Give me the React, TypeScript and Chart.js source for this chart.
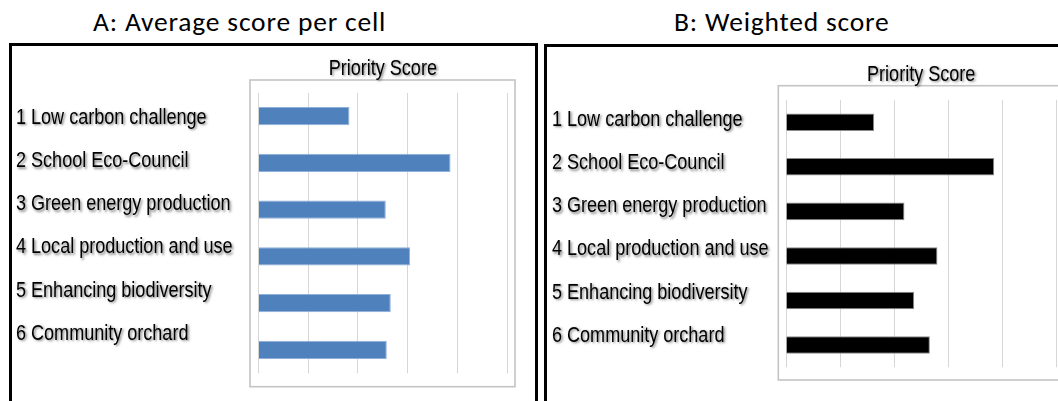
import React, { useEffect, useRef } from "react";
import { Chart, registerables } from "chart.js";

Chart.register(...registerables);

// ---------- data ----------
const categories = [
  "1 Low carbon challenge",
  "2 School Eco-Council",
  "3 Green energy production",
  "4 Local production and use",
  "5 Enhancing biodiversity",
  "6 Community orchard",
];
const scoresA = [1.83, 3.86, 2.56, 3.05, 2.66, 2.58];
const scoresB = [1.63, 3.85, 2.19, 2.8, 2.37, 2.66];
const xMin = 0;
const xMax = 5;
const xStep = 1;
const axisTitle = "Priority Score";
const panelTitleA = "A: Average score per cell";
const panelTitleB = "B: Weighted score";

// ---------- styles / layout ----------
const LABEL_FONT = "'Liberation Sans', Arial, sans-serif";
const NARROW_SCALE = 0.82; // emulate Arial Narrow
const TITLE_FONT = "Carlito, Calibri, Lato, 'Open Sans', sans-serif";

type PanelLayout = {
  canvasLeft: number;
  canvasWidth: number;
  pad: { left: number; right: number; top: number; bottom: number };
  labelAxisWidth: number;
  xAxisHeight: number;
  titlePadTop: number;
  labelMin: number;
  labelMax: number;
  frame: { l: number; t: number; r: number; b: number };
};

const layoutA: PanelLayout = {
  canvasLeft: 0,
  canvasWidth: 540,
  pad: { left: 16, right: 32.7, top: 0, bottom: 27.7 },
  labelAxisWidth: 242.3,
  xAxisHeight: 92.7,
  titlePadTop: 55.5,
  labelMin: -0.581,
  labelMax: 5.914,
  frame: { l: 8.3, t: 12.7, r: 7.7, b: 13.4 },
};

const layoutB: PanelLayout = {
  canvasLeft: 536,
  canvasWidth: 522,
  pad: { left: 16, right: 1.6, top: 0, bottom: 33.7 },
  labelAxisWidth: 234,
  xAxisHeight: 100,
  titlePadTop: 61.4,
  labelMin: -0.458,
  labelMax: 5.729,
  frame: { l: 7.7, t: 14.3, r: 7.7, b: 12.7 },
};

const framePlugin = {
  id: "plotFrame",
  beforeDraw(chart: any, _args: any, opts: any) {
    const { left, top, right, bottom } = chart.chartArea;
    const ctx = chart.ctx;
    ctx.save();
    ctx.strokeStyle = opts.color || "#c4c4c4";
    ctx.lineWidth = opts.width || 1.5;
    ctx.strokeRect(
      left - opts.l,
      top - opts.t,
      right - left + opts.l + opts.r,
      bottom - top + opts.t + opts.b
    );
    ctx.restore();
  },
};

// text shadow + horizontal condensing for the label ticks and axis title
const textStylePlugin = {
  id: "textStyle",
  afterLayout(chart: any) {
    const wrap = (scale: any, name: string, originX: () => number) => {
      if (!scale || scale["__wrapped_" + name]) return;
      const orig = scale[name].bind(scale);
      scale[name] = (...args: any[]) => {
        const ctx = chart.ctx;
        const ox = originX();
        ctx.save();
        ctx.shadowColor = "rgba(0,0,0,0.5)";
        ctx.shadowOffsetX = 1.5;
        ctx.shadowOffsetY = 1.5;
        ctx.shadowBlur = 2.5;
        ctx.translate(ox, 0);
        ctx.scale(NARROW_SCALE, 1);
        ctx.translate(-ox, 0);
        orig(...args);
        ctx.restore();
      };
      scale["__wrapped_" + name] = true;
    };
    const yl = chart.scales.yl;
    if (yl) yl._computeLabelArea = () => undefined; // no clipping of long labels
    wrap(yl, "drawLabels", () => yl.left);
    wrap(chart.scales.x, "drawTitle", () => (chart.chartArea.left + chart.chartArea.right) / 2);
  },
};

function PanelChart(props: {
  values: number[];
  layout: PanelLayout;
  color: string;
  edge: string;
}) {
  const { values, layout, color, edge } = props;
  const ref = useRef<HTMLCanvasElement | null>(null);

  useEffect(() => {
    if (!ref.current) return;
    const chart = new Chart(ref.current, {
      type: "bar",
      data: {
        labels: categories,
        datasets: [
          {
            data: values,
            backgroundColor: color,
            borderColor: edge,
            borderWidth: 1,
            barPercentage: 0.393,
            categoryPercentage: 1,
            xAxisID: "x",
            yAxisID: "y",
          },
        ],
      },
      options: {
        indexAxis: "y",
        animation: false,
        responsive: false,
        maintainAspectRatio: false,
        events: [],
        layout: { padding: layout.pad },
        plugins: {
          legend: { display: false },
          tooltip: { enabled: false },
          title: { display: false },
          plotFrame: { ...layout.frame, color: "#c4c4c4", width: 1.6 },
        } as any,
        scales: {
          x: {
            type: "linear",
            position: "top",
            min: xMin,
            max: xMax,
            ticks: { display: false, stepSize: xStep },
            grid: { color: "#d6d6d6", lineWidth: 1, drawTicks: false },
            border: { display: false },
            title: {
              display: true,
              text: axisTitle,
              color: "#000",
              font: { family: LABEL_FONT, size: 22 },
              padding: { top: layout.titlePadTop, bottom: 0 },
            },
            afterFit: (s: any) => {
              s.height = layout.xAxisHeight;
            },
          },
          y: {
            type: "category",
            display: false,
            offset: true,
          },
          yl: {
            type: "linear",
            position: "left",
            reverse: true,
            offset: false,
            bounds: "data",
            min: layout.labelMin,
            max: layout.labelMax,
            grid: { display: false, offset: false },
            border: { display: false },
            ticks: {
              autoSkip: false,
              crossAlign: "far",
              padding: 0,
              color: "#000",
              font: { family: LABEL_FONT, size: 22 },
              callback: (v: any) => {
                const i = Number(v);
                return Number.isInteger(i) && i >= 0 && i < categories.length
                  ? categories[i]
                  : "";
              },
            },
            afterBuildTicks: (s: any) => {
              s.ticks = categories.map((_, i) => ({ value: i }));
              s.min = layout.labelMin;
              s.max = layout.labelMax;
            },
            afterFit: (s: any) => {
              s.width = layout.labelAxisWidth;
            },
          },
        } as any,
      },
      plugins: [framePlugin, textStylePlugin],
    });
    return () => chart.destroy();
  }, [values, layout, color, edge]);

  return (
    <canvas
      ref={ref}
      width={layout.canvasWidth}
      height={401}
      style={{
        position: "absolute",
        left: layout.canvasLeft,
        top: 0,
        width: layout.canvasWidth,
        height: 401,
      }}
    />
  );
}

export default function App() {
  const titleStyle: React.CSSProperties = {
    position: "absolute",
    top: 7.5,
    fontFamily: TITLE_FONT,
    fontSize: 27.5,
    letterSpacing: 0.8,
    lineHeight: 1,
    color: "#000",
    whiteSpace: "nowrap",
  };
  return (
    <div
      style={{
        position: "fixed",
        left: 0,
        top: 0,
        width: 1058,
        height: 401,
        overflow: "hidden",
        background: "#fff",
      }}
    >
      <div style={{ ...titleStyle, left: 93 }}>{panelTitleA}</div>
      <div style={{ ...titleStyle, left: 674 }}>{panelTitleB}</div>
      <div
        style={{
          position: "absolute",
          left: 9,
          top: 43,
          width: 529,
          height: 420,
          border: "3px solid #000",
          boxSizing: "border-box",
        }}
      />
      <div
        style={{
          position: "absolute",
          left: 544,
          top: 44,
          width: 600,
          height: 420,
          border: "3px solid #000",
          boxSizing: "border-box",
        }}
      />
      <PanelChart values={scoresA} layout={layoutA} color="#4f81bd" edge="#8fb0da" />
      <PanelChart values={scoresB} layout={layoutB} color="#000000" edge="#8a8a8a" />
    </div>
  );
}
